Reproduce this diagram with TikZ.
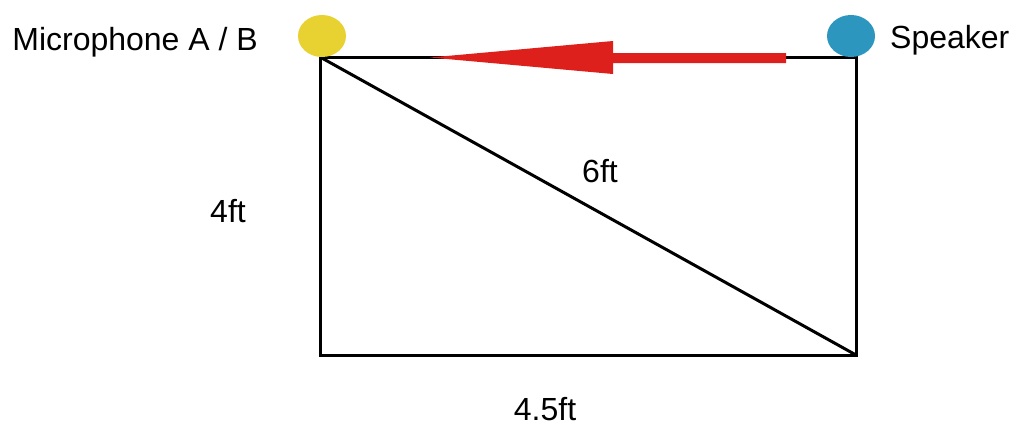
\documentclass[tikz,border=0pt]{standalone}
\usepackage{fontspec}
\setmainfont{Liberation Sans}
\usetikzlibrary{shapes.geometric}
\definecolor{dotyellow}{RGB}{232,210,50}
\definecolor{dotblue}{RGB}{45,150,190}
\definecolor{arrowred}{RGB}{222,32,28}
\begin{document}
\begin{tikzpicture}[x=1pt,y=-1pt,
  edge/.style={line width=3pt,black},
  dot/.style={ellipse,minimum width=48pt,minimum height=42pt,inner sep=0pt},
  lbl/.style={font=\fontsize{32}{36}\selectfont,inner sep=0pt}]
\useasboundingbox (0,0) rectangle (1016,426);
\coordinate (tl) at (320,57);
\coordinate (tr) at (856,57);
\coordinate (bl) at (320,355);
\coordinate (br) at (856,355);
\draw[edge,line join=miter] (tr) -- (tl) -- (bl) -- (br) -- cycle;
\draw[edge] (tl) -- (br);
\fill[arrowred] (786,53) -- (613,53) -- (613,41) -- (430,57.5) -- (613,74) -- (613,63) -- (786,63) -- cycle;
\node[dot,fill=dotyellow] (mic) at (322,36) {};
\node[dot,fill=dotblue] (spk) at (851,36) {};
\node[lbl,anchor=east] (miclbl) at (258,42) {Microphone A / B};
\node[lbl,anchor=west] (spklbl) at (890,40) {Speaker};
\node[lbl] (d) at (600,171) {6ft};
\node[lbl] (h) at (228,211) {4ft};
\node[lbl,anchor=base] (w) at (545,420) {4.5ft};
\end{tikzpicture}
\end{document}
